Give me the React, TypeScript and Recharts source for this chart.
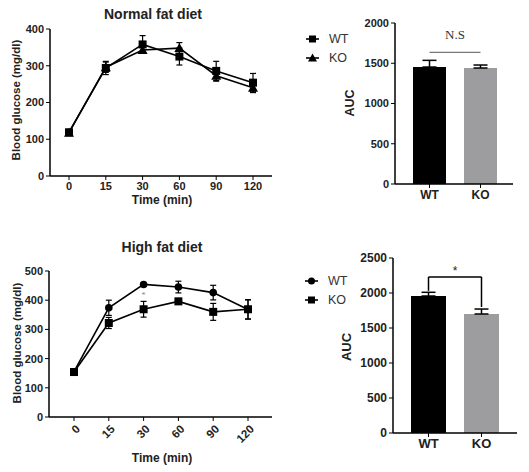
import React from 'react';
import {
  LineChart, Line, BarChart, Bar, Cell, XAxis, YAxis, ErrorBar, ReferenceLine, ReferenceDot,
} from 'recharts';

const FONT = 'Arial, "Liberation Sans", sans-serif';

// time points (min)
const times = ['0', '15', '30', '60', '90', '120'];

// normal fat diet, blood glucose (mg/dl)
const nfdWT = [119, 294, 358, 325, 286, 254];
const nfdWTErr = [5, 18, 24, 23, 26, 25];
const nfdKO = [118, 296, 343, 348, 273, 240];
const nfdKOErr = [5, 14, 9, 15, 15, 13];

// high fat diet, blood glucose (mg/dl)
const hfdWT = [155, 374, 454, 445, 426, 368];
const hfdWTErr = [5, 26, 6, 20, 25, 33];
const hfdKO = [154, 322, 369, 396, 360, 369];
const hfdKOErr = [5, 19, 27, 10, 29, 33];

// AUC
const groups = ['WT', 'KO'];
const nfdAUC = [1453, 1441];
const nfdAUCErr = [83, 37];
const hfdAUC = [1957, 1700];
const hfdAUCErr = [53, 71];
const barColors = ['#000000', '#9d9d9f'];

const nfdData = times.map((t, i) => ({ t, wt: nfdWT[i], wtErr: nfdWTErr[i], ko: nfdKO[i], koErr: nfdKOErr[i] }));
const hfdData = times.map((t, i) => ({ t, wt: hfdWT[i], wtErr: hfdWTErr[i], ko: hfdKO[i], koErr: hfdKOErr[i] }));
const nfdBars = groups.map((g, i) => ({ g, v: nfdAUC[i], err: [0, nfdAUCErr[i]] }));
const hfdBars = groups.map((g, i) => ({ g, v: hfdAUC[i], err: [0, hfdAUCErr[i]] }));

const tickStyle = { fontSize: 11, fontWeight: 700, fill: '#222', fontFamily: FONT };
const axisLine = { stroke: '#000', strokeWidth: 1.5 };

const squareDot = (s: number) => (p: any) => (
  <rect key={`s-${p.index}`} x={p.cx - s / 2} y={p.cy - s / 2} width={s} height={s} fill="#000" />
);
const triangleDot = (p: any) => (
  <path key={`t-${p.index}`} d={`M${p.cx},${p.cy - 5} L${p.cx + 5},${p.cy + 4} L${p.cx - 5},${p.cy + 4} Z`} fill="#000" />
);
const circleDot = (p: any) => <circle key={`c-${p.index}`} cx={p.cx} cy={p.cy} r={3.8} fill="#000" />;

const RotTick = (p: any) => (
  <text
    x={p.x + 4}
    y={p.y + 4}
    transform={`rotate(-45, ${p.x + 4}, ${p.y + 4})`}
    textAnchor="end"
    dy="0.35em"
    style={{ ...tickStyle, fontSize: 11.5 }}
  >
    {p.payload.value}
  </text>
);

const Txt = ({ x, y, size = 11, rotate = false, children, weight = 700, family = FONT, color = '#222' }: any) => (
  <div
    style={{
      position: 'absolute', left: x, top: y, transform: `translate(-50%, -50%)${rotate ? ' rotate(-90deg)' : ''}`,
      fontSize: size, fontWeight: weight, fontFamily: family, color, whiteSpace: 'nowrap', lineHeight: 1,
    }}
  >
    {children}
  </div>
);

const LegendItem = ({ x, y, label, marker }: any) => (
  <div style={{ position: 'absolute', left: x, top: y - 8, height: 16, display: 'flex', alignItems: 'center' }}>
    <svg width={14} height={16}>
      <line x1={0} y1={8} x2={13} y2={8} stroke="#000" strokeWidth={1.6} />
      {marker === 'square' && <rect x={3} y={4.5} width={7} height={7} fill="#000" />}
      {marker === 'triangle' && <path d="M6.5,3.5 L11,11.5 L2,11.5 Z" fill="#000" />}
      {marker === 'circle' && <circle cx={6.5} cy={8} r={3.5} fill="#000" />}
    </svg>
    <span style={{ marginLeft: 9, fontSize: 12.5, fontFamily: FONT, color: '#333' }}>{label}</span>
  </div>
);

export default function App() {
  return (
    <div style={{ position: 'absolute', left: 0, top: 0, width: 529, height: 472, background: '#fff', overflow: 'hidden' }}>
      {/* normal fat diet curve */}
      <div style={{ position: 'absolute', left: 0, top: 0 }}>
        <LineChart width={280} height={215} data={nfdData} margin={{ top: 29, right: 8, bottom: 9, left: 10 }}>
          <XAxis dataKey="t" height={30} padding={{ left: 19, right: 19 }} tickSize={4} tick={tickStyle}
            axisLine={axisLine} tickLine={{ stroke: '#000' }} />
          <YAxis width={40} domain={[0, 400]} ticks={[0, 100, 200, 300, 400]} tickSize={4} tick={tickStyle}
            axisLine={axisLine} tickLine={{ stroke: '#000' }} />
          <Line dataKey="ko" stroke="#000" strokeWidth={1.6} dot={triangleDot} isAnimationActive={false}>
            <ErrorBar dataKey="koErr" direction="y" width={3} stroke="#000" strokeWidth={1.2} />
          </Line>
          <Line dataKey="wt" stroke="#000" strokeWidth={1.6} dot={squareDot(8)} isAnimationActive={false}>
            <ErrorBar dataKey="wtErr" direction="y" width={3} stroke="#000" strokeWidth={1.2} />
          </Line>
        </LineChart>
      </div>
      <Txt x={153} y={14} size={14}>Normal fat diet</Txt>
      <Txt x={17} y={100} size={11.5} rotate>Blood glucose (mg/dl)</Txt>
      <Txt x={162} y={200} size={12}>Time (min)</Txt>
      <LegendItem x={306} y={39} label="WT" marker="square" />
      <LegendItem x={306} y={58} label="KO" marker="triangle" />

      {/* normal fat diet AUC */}
      <div style={{ position: 'absolute', left: 290, top: 0 }}>
        <BarChart width={239} height={215} data={nfdBars} margin={{ top: 23, right: 16, bottom: 6, left: 50 }}>
          <XAxis dataKey="g" height={25} padding={{ left: 9, right: 7 }} tickSize={4}
            tick={{ ...tickStyle, fontSize: 12 }} axisLine={axisLine} tickLine={{ stroke: '#000' }} />
          <YAxis width={55} domain={[0, 2000]} ticks={[0, 500, 1000, 1500, 2000]} tickSize={4} tick={tickStyle}
            axisLine={axisLine} tickLine={{ stroke: '#000' }} />
          <Bar dataKey="v" barSize={33} isAnimationActive={false}>
            {nfdBars.map((d, i) => <Cell key={d.g} fill={barColors[i]} />)}
            <ErrorBar dataKey="err" direction="y" width={7} stroke="#000" strokeWidth={1.5} />
          </Bar>
          <ReferenceLine segment={[{ x: 'WT', y: 1636 }, { x: 'KO', y: 1636 }]} stroke="#555" strokeWidth={1}
            label={{ value: 'N.S', position: 'top', offset: 13, fontSize: 13, fill: '#333', fontFamily: '"Liberation Serif", "Times New Roman", serif' }} />
        </BarChart>
      </div>
      <Txt x={350} y={103} size={12.5} rotate>AUC</Txt>

      {/* high fat diet curve */}
      <div style={{ position: 'absolute', left: 0, top: 230 }}>
        <LineChart width={280} height={242} data={hfdData} margin={{ top: 41, right: 8, bottom: 10, left: 9 }}>
          <XAxis dataKey="t" height={45} padding={{ left: 25, right: 24 }} tickSize={4} tick={<RotTick />}
            axisLine={axisLine} tickLine={{ stroke: '#000' }} />
          <YAxis width={40} domain={[0, 500]} ticks={[0, 100, 200, 300, 400, 500]} tickSize={4} tick={tickStyle}
            axisLine={axisLine} tickLine={{ stroke: '#000' }} />
          <Line dataKey="ko" stroke="#000" strokeWidth={1.6} dot={squareDot(8)} isAnimationActive={false}>
            <ErrorBar dataKey="koErr" direction="y" width={3} stroke="#000" strokeWidth={1.2} />
          </Line>
          <Line dataKey="wt" stroke="#000" strokeWidth={1.6} dot={circleDot} isAnimationActive={false}>
            <ErrorBar dataKey="wtErr" direction="y" width={3} stroke="#000" strokeWidth={1.2} />
          </Line>
          <ReferenceDot x="30" y={418} r={0} label={{ value: '*', position: 'center', fontSize: 8, fill: '#888' }} />
        </LineChart>
      </div>
      <Txt x={162} y={247} size={14}>High fat diet</Txt>
      <Txt x={18} y={343} size={11.5} rotate>Blood glucose (mg/dl)</Txt>
      <Txt x={162} y={458} size={12}>Time (min)</Txt>
      <LegendItem x={305} y={281} label="WT" marker="circle" />
      <LegendItem x={305} y={300} label="KO" marker="square" />

      {/* high fat diet AUC */}
      <div style={{ position: 'absolute', left: 290, top: 230 }}>
        <BarChart width={239} height={242} data={hfdBars} margin={{ top: 28, right: 12, bottom: 9, left: 48 }}>
          <XAxis dataKey="g" height={30} padding={{ left: 9, right: 9 }} tickSize={4}
            tick={{ ...tickStyle, fontSize: 13 }} axisLine={axisLine} tickLine={{ stroke: '#000' }} />
          <YAxis width={55} domain={[0, 2500]} ticks={[0, 500, 1000, 1500, 2000, 2500]} tickSize={4}
            tick={{ ...tickStyle, fontSize: 12 }} axisLine={axisLine} tickLine={{ stroke: '#000' }} />
          <Bar dataKey="v" barSize={35} isAnimationActive={false}>
            {hfdBars.map((d, i) => <Cell key={d.g} fill={barColors[i]} />)}
            <ErrorBar dataKey="err" direction="y" width={7} stroke="#000" strokeWidth={1.5} />
          </Bar>
          <ReferenceLine segment={[{ x: 'WT', y: 2230 }, { x: 'KO', y: 2230 }]} stroke="#000" strokeWidth={1.5}
            label={{ value: '*', position: 'top', offset: 2, fontSize: 12, fill: '#222', fontFamily: FONT }} />
          <ReferenceLine segment={[{ x: 'WT', y: 2230 }, { x: 'WT', y: 2030 }]} stroke="#000" strokeWidth={1.5} />
          <ReferenceLine segment={[{ x: 'KO', y: 2230 }, { x: 'KO', y: 1800 }]} stroke="#000" strokeWidth={1.5} />
        </BarChart>
      </div>
      <Txt x={346} y={347} size={13} rotate>AUC</Txt>
    </div>
  );
}
